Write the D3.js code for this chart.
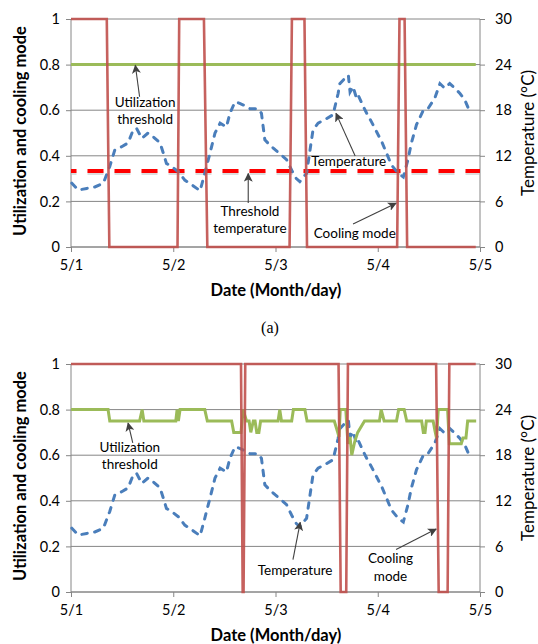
<!DOCTYPE html>
<html>
<head>
<meta charset="utf-8">
<script src="https://cdn.jsdelivr.net/npm/d3@7"></script>
<style>
  body { margin: 0; background: #fff; }
  text { font-family: Lato, "Open Sans", sans-serif; fill: #000; }
</style>
</head>
<body>
<div id="chart"></div>
<script>
// hours since 5/1 00:00
const dayLabels = ["5/1", "5/2", "5/3", "5/4", "5/5"];
const dayTicks = [0, 24, 48, 72, 96];
const utilTicks = [0, 0.2, 0.4, 0.6, 0.8, 1];
const tempTicks = [0, 6, 12, 18, 24, 30];

const tempHours = [0.2, 1.7, 3.7, 5.6, 7.6, 9.1, 10.3, 11.9, 13.4, 14.6, 15.4, 16.6, 18.1, 19.3, 20.9, 21.7, 22.4, 23.6,
    25.2, 26.7, 28.3, 30.3, 31.4, 32.6, 33.8, 35.0, 36.5, 37.3, 38.5, 39.6, 41.2, 42.0, 43.9, 44.7, 45.5, 46.7, 47.9,
    49.4, 50.6, 51.8, 52.9, 53.7, 55.3, 56.8, 58.0, 60.0, 61.5, 62.7, 63.1, 64.3, 65.1, 65.5, 66.2, 67.0, 67.4, 68.6,
    69.4, 70.5, 71.7, 72.9, 74.1, 75.2, 76.8, 78.0, 79.1, 79.9, 81.1, 82.7, 83.8, 85.4, 86.6, 87.7, 88.9, 90.1, 91.3,
    92.4, 93.6];
const tempValues = [8.4, 7.5, 7.7, 7.9, 8.4, 10.6, 12.8, 13.2, 13.7, 15.4, 15.6, 14.3, 15.0, 14.5, 13.7, 12.3, 11.0, 10.6,
    9.9, 8.8, 8.2, 7.4, 9.7, 12.3, 15.0, 16.3, 15.8, 17.6, 19.1, 18.9, 18.5, 18.2, 18.2, 17.6, 14.1, 13.4, 12.8,
    12.1, 11.5, 10.1, 9.0, 8.6, 9.7, 15.4, 16.3, 16.9, 17.4, 20.2, 21.5, 22.2, 22.6, 20.4, 21.1, 19.6, 20.0, 18.5,
    17.6, 16.5, 15.2, 13.9, 12.3, 10.8, 9.7, 9.2, 11.5, 13.7, 16.1, 18.0, 18.2, 19.6, 21.5, 20.9, 21.5, 20.9, 20.2,
    19.4, 17.8];

const thresholdTemp = 10;

// panel (a)
const utilAHours = [0, 95];
const utilAValues = [0.8, 0.8];
const coolAHours = [0, 8.4, 9.0, 25.0, 25.4, 31.2, 32.0, 51.3, 51.85, 54.8, 55.4, 76.55, 77.1, 78.3, 78.9, 95];
const coolAValues = [1, 1, 0, 0, 1, 1, 0, 0, 1, 1, 0, 0, 1, 1, 0, 0];

// panel (b)
const utilBHours = [0, 8.7, 9.1, 16.1, 16.7, 17.1, 24.6, 24.9, 25.2, 25.6, 31.4, 32.0, 37.7, 38.2, 39.9, 40.4, 41.2,
    41.8, 42.2, 42.8, 43.2, 43.6, 44.1, 44.5, 48.6, 49.0, 49.4, 51.8, 52.2, 54.9, 55.4, 61.8, 62.6, 62.9, 63.2, 64.5,
    65.0, 65.5, 65.9, 66.6, 67.3, 68.9, 72.4, 72.8, 73.5, 76.4, 76.9, 78.2, 78.8, 82.3, 82.7, 83.1, 83.4, 85.0, 85.4,
    85.8, 86.2, 88.4, 88.8, 91.6, 92.0, 92.7, 93.1, 95.1];
const utilBValues = [0.8, 0.8, 0.75, 0.75, 0.8, 0.75, 0.75, 0.8, 0.75, 0.8, 0.8, 0.75, 0.75, 0.7, 0.7, 0.8, 0.75,
    0.75, 0.7, 0.75, 0.75, 0.7, 0.7, 0.75, 0.75, 0.8, 0.75, 0.75, 0.8, 0.8, 0.75, 0.75, 0.7, 0.68, 0.8, 0.8,
    0.65, 0.68, 0.6, 0.66, 0.7, 0.75, 0.75, 0.8, 0.75, 0.75, 0.8, 0.8, 0.75, 0.75, 0.7, 0.7, 0.75, 0.75, 0.71,
    0.675, 0.8, 0.8, 0.65, 0.65, 0.675, 0.675, 0.75, 0.75];
const coolBHours = [0, 39.9, 40.3, 40.5, 40.9, 62.8, 63.3, 64.6, 65.0, 85.7, 86.3, 88.4, 88.8, 95];
const coolBValues = [1, 1, 0, 0, 1, 1, 0, 0, 1, 1, 0, 0, 1, 1];

// annotation text [hour, util], arrow [from hour, from util, to hour, to util]
const notesA = [
    {lines: ["Utilization", "threshold"], at: [17.4, 0.636], arrow: [16.1, 0.659, 15.1, 0.797]},
    {lines: ["Threshold", "temperature"], at: [42.0, 0.158], arrow: [41.6, 0.193, 41.6, 0.322]},
    {lines: ["Temperature"], at: [65.2, 0.377], arrow: [66.7, 0.399, 62.2, 0.586]},
    {lines: ["Cooling mode"], at: [66.6, 0.06], arrow: [66.2, 0.101, 76.3, 0.192]}
];
const notesB = [
    {lines: ["Utilization", "threshold"], at: [13.8, 0.636], arrow: [14.5, 0.654, 13.4, 0.741]},
    {lines: ["Temperature"], at: [52.6, 0.095], arrow: [52.1, 0.142, 53.8, 0.305]},
    {lines: ["Cooling", "mode"], at: [75.0, 0.146], arrow: [76.3, 0.186, 85.7, 0.276]}
];

const svg = d3.select("#chart").append("svg")
    .attr("width", 538)
    .attr("height", 644);

svg.append("defs").append("marker")
    .attr("id", "arrow")
    .attr("viewBox", "0 0 10 10")
    .attr("refX", 9).attr("refY", 5)
    .attr("markerWidth", 9).attr("markerHeight", 9)
    .attr("markerUnits", "userSpaceOnUse")
    .attr("orient", "auto")
    .append("path")
    .attr("d", "M0,0L10,5L0,10L2.5,5Z")
    .attr("fill", "#404040");

const x = d3.scaleLinear().domain([0, 96]).range([71, 480]);
const grid = "#868686";

function zip(hs, vs) {
    return hs.map((h, i) => [h, vs[i]]);
}

function drawPanel(top, bottom, util, cool, showThreshold, notes, caption) {
    const y = d3.scaleLinear().domain([0, 1]).range([bottom, top]);
    const yT = d3.scaleLinear().domain([0, 30]).range([bottom, top]);
    const g = svg.append("g");

    // horizontal grid
    g.selectAll(".grid").data(utilTicks).enter().append("line")
        .attr("x1", x(0)).attr("x2", x(96))
        .attr("y1", d => y(d)).attr("y2", d => y(d))
        .attr("stroke", grid).attr("stroke-width", 1);

    const yAxis = d3.axisLeft(y).tickValues(utilTicks).tickSize(5).tickPadding(6)
        .tickFormat(d => d === 0 || d === 1 ? d : d3.format(".1f")(d));
    const ga = g.append("g").attr("transform", `translate(${x(0)},0)`).call(yAxis);

    const yAxisR = d3.axisRight(yT).tickValues(tempTicks).tickSize(5).tickPadding(10);
    const gr = g.append("g").attr("transform", `translate(${x(96)},0)`).call(yAxisR);

    const xAxis = d3.axisBottom(x).tickValues(dayTicks).tickSize(5).tickPadding(8)
        .tickFormat((d, i) => dayLabels[i]);
    const gx = g.append("g").attr("transform", `translate(0,${bottom})`).call(xAxis);

    [ga, gr, gx].forEach(a => {
        a.select(".domain").attr("stroke", grid);
        a.selectAll(".tick line").attr("stroke", grid);
        a.selectAll("text").attr("font-size", 14.5).attr("fill", "#000")
            .style("font-family", "Lato, sans-serif");
    });
    // plain axis lines, no outer ticks
    ga.select(".domain").attr("d", `M0,${bottom}V${top}`);
    gr.select(".domain").attr("d", `M0,${bottom}V${top}`);
    gx.select(".domain").attr("d", `M${x(0)},0H${x(96)}`);

    // threshold temperature
    if (showThreshold) {
        const ty = yT(thresholdTemp);
        g.append("line")
            .attr("x1", x(0)).attr("x2", x(96))
            .attr("y1", ty + 2).attr("y2", ty + 2)
            .attr("stroke", "#bbb").attr("stroke-opacity", 0.5)
            .attr("stroke-width", 4)
            .attr("stroke-dasharray", "16,11").attr("stroke-dashoffset", 10.5);
        g.append("line")
            .attr("x1", x(0)).attr("x2", x(96))
            .attr("y1", ty).attr("y2", ty)
            .attr("stroke", "#ff0000")
            .attr("stroke-width", 4)
            .attr("stroke-dasharray", "16,11").attr("stroke-dashoffset", 10.5);
    }

    // temperature
    const tLine = d3.line().x(d => x(d[0])).y(d => yT(d[1]));
    g.append("path")
        .datum(zip(tempHours, tempValues))
        .attr("d", tLine)
        .attr("fill", "none")
        .attr("stroke", "#4a7ebb")
        .attr("stroke-width", 3)
        .attr("stroke-linecap", "round")
        .attr("stroke-dasharray", "5.5,7.5");

    const uLine = d3.line().x(d => x(d[0])).y(d => y(d[1]));

    // utilization threshold
    g.append("path")
        .datum(util)
        .attr("d", uLine)
        .attr("fill", "none")
        .attr("stroke", "#9bbb59")
        .attr("stroke-width", 3);

    // cooling mode
    g.append("path")
        .datum(cool)
        .attr("d", uLine)
        .attr("fill", "none")
        .attr("stroke", "#c0504d")
        .attr("stroke-width", 2.6)
        .attr("stroke-opacity", 0.9);

    // annotations
    notes.forEach(n => {
        g.append("line")
            .attr("x1", x(n.arrow[0])).attr("y1", y(n.arrow[1]))
            .attr("x2", x(n.arrow[2])).attr("y2", y(n.arrow[3]))
            .attr("stroke", "#404040").attr("stroke-width", 1.1)
            .attr("marker-end", "url(#arrow)");
        const t = g.append("text")
            .attr("text-anchor", "middle")
            .attr("font-size", 13.5);
        n.lines.forEach((s, i) => {
            t.append("tspan")
                .attr("x", x(n.at[0]))
                .attr("y", y(n.at[1]) + i * 17.5)
                .attr("dy", "0.35em")
                .text(s);
        });
    });

    // titles
    g.append("text")
        .attr("transform", `translate(20,${(top + bottom) / 2 - 2}) rotate(-90)`)
        .attr("text-anchor", "middle").attr("dy", "0.35em")
        .attr("font-size", 16.5).attr("font-weight", "bold")
        .text("Utilization and cooling mode");
    g.append("text")
        .attr("transform", `translate(528,${(top + bottom) / 2}) rotate(-90)`)
        .attr("text-anchor", "middle").attr("dy", "0.35em")
        .attr("font-size", 17)
        .text("Temperature (°C)");
    g.append("text")
        .attr("x", (x(0) + x(96)) / 2 + 0.5).attr("y", bottom + 43)
        .attr("text-anchor", "middle").attr("dy", "0.35em")
        .attr("font-size", 16.5).attr("font-weight", "bold")
        .text("Date (Month/day)");

    if (caption) {
        g.append("text")
            .attr("x", 270).attr("y", bottom + 80)
            .attr("text-anchor", "middle").attr("dy", "0.35em")
            .attr("font-size", 16)
            .style("font-family", "'Liberation Serif', 'DejaVu Serif', serif")
            .text(caption);
    }
}

drawPanel(19, 247, zip(utilAHours, utilAValues), zip(coolAHours, coolAValues), true, notesA, "(a)");
drawPanel(364, 592, zip(utilBHours, utilBValues), zip(coolBHours, coolBValues), false, notesB, null);
</script>
</body>
</html>
